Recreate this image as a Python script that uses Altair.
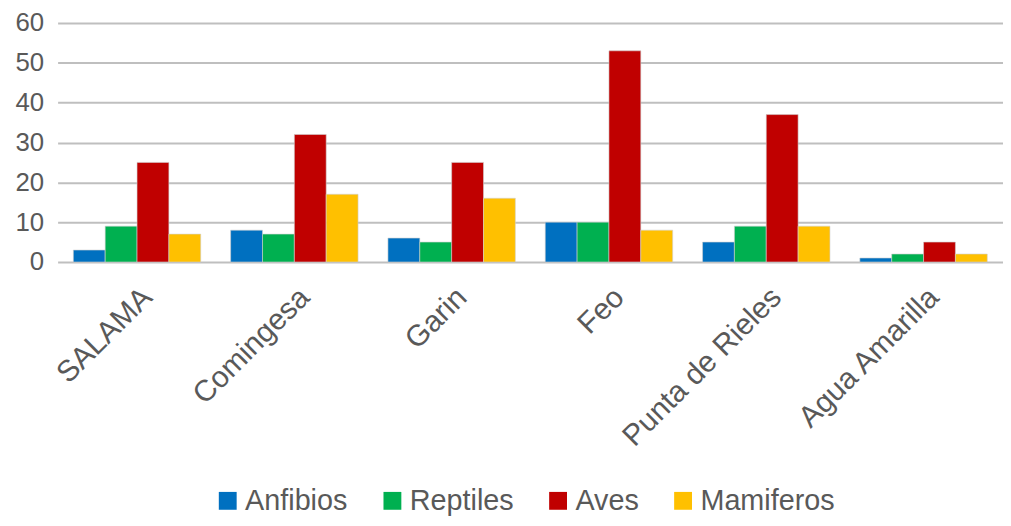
import altair as alt
import pandas as pd

categories = ["SALAMA", "Comingesa", "Garin", "Feo", "Punta de Rieles", "Agua Amarilla"]
series = ["Anfibios", "Reptiles", "Aves", "Mamiferos"]
anfibios = [3, 8, 6, 10, 5, 1]
reptiles = [9, 7, 5, 10, 9, 2]
aves = [25, 32, 25, 53, 37, 5]
mamiferos = [7, 17, 16, 8, 9, 2]
colors = ["#0070C0", "#00B050", "#C00000", "#FFC000"]

rows = []
for s, vals in zip(series, [anfibios, reptiles, aves, mamiferos]):
    for c, v in zip(categories, vals):
        rows.append({"Sitio": c, "Grupo": s, "Valor": v})
df = pd.DataFrame(rows)

font = "Liberation Sans"
chart = alt.Chart(df).mark_bar(stroke="#d0d0d0", strokeWidth=0.6).encode(
    x=alt.X("Sitio:N", sort=categories, title=None,
            scale=alt.Scale(paddingInner=0.19, paddingOuter=0.1),
            axis=alt.Axis(labelAngle=-45, labelFontSize=30, labelColor="#595959",
                          labelFont=font, ticks=False, domain=False, labelPadding=20,
                          labelLimit=400)),
    xOffset=alt.XOffset("Grupo:N", sort=series),
    y=alt.Y("Valor:Q", title=None,
            scale=alt.Scale(domain=[0, 60]),
            axis=alt.Axis(values=[0, 10, 20, 30, 40, 50, 60], labelFontSize=26,
                          labelColor="#595959", labelFont=font, ticks=False,
                          domain=False, labelPadding=14, gridColor="#BFBFBF",
                          gridWidth=2)),
    color=alt.Color("Grupo:N", sort=series,
                    scale=alt.Scale(domain=series, range=colors),
                    legend=alt.Legend(title=None, orient="none", direction="horizontal",
                                      legendX=157, legendY=467,
                                      symbolType="square", symbolSize=324,
                                      symbolStrokeWidth=0, labelFontSize=29,
                                      labelFont=font, labelColor="#595959",
                                      columnPadding=30, labelOffset=3)),
).properties(
    width=953, height=241,
    autosize=alt.AutoSizeParams(type="none"),
    padding={"left": 50, "top": 13, "right": 0, "bottom": 256},
).configure_view(stroke=None)

chart.save("out.html", embed_options={"renderer": "svg", "actions": False})
